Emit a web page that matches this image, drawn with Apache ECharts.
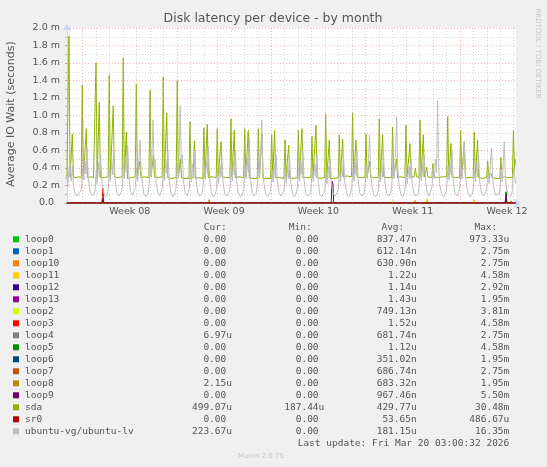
<!DOCTYPE html>
<html>
<head>
<meta charset="utf-8">
<script src="https://cdn.jsdelivr.net/npm/echarts/dist/echarts.min.js"></script>
<style>
html,body{margin:0;padding:0;background:#F0F0F0;}
#chart{width:547px;height:467px;}
</style>
</head>
<body>
<div id="chart"></div>
<script>
// ---- data (x = days since Mon 16 Feb 2026 00:00, y = milliseconds) ----
const names = ['loop0','loop1','loop10','loop11','loop12','loop13','loop2','loop3','loop4','loop5','loop6','loop7','loop8','loop9','sda','sr0','ubuntu-vg/ubuntu-lv'];
const colors = ['#00CC00','#0066B3','#FF8000','#FFCC00','#330099','#990099','#CCFF00','#FF0000','#808080','#008F00','#00487D','#B35A00','#B38F00','#6B006B','#8FB300','#B30000','#BEBEBE'];
const curVals = ['0.00','0.00','0.00','0.00','0.00','0.00','0.00','0.00','6.97u','0.00','0.00','0.00','2.15u','0.00','499.07u','0.00','223.67u'];
const minVals = ['0.00','0.00','0.00','0.00','0.00','0.00','0.00','0.00','0.00','0.00','0.00','0.00','0.00','0.00','187.44u','0.00','0.00'];
const avgVals = ['837.47n','612.14n','630.90n','1.22u','1.14u','1.43u','749.13n','1.52u','681.74n','1.12u','351.02n','686.74n','683.32n','967.46n','429.77u','53.65n','181.15u'];
const maxVals = ['973.33u','2.75m','2.75m','4.58m','2.92m','1.95m','3.81m','4.58m','2.75m','4.58m','1.95m','2.75m','1.95m','5.50m','30.48m','486.67u','16.35m'];

const timeStart = -1.166, timeEnd = 32.17;
const gridDays = [-1,1,2,3,4,5,6,8,9,10,11,12,13,15,16,17,18,19,20,22,23,24,25,26,27,29,30,31,32];
const gridWeeks = [0,7,14,21,28];
const weekMids = [3.5,10.5,17.5,24.5,31.5];
const weekLabels = ['Week 08','Week 09','Week 10','Week 11','Week 12'];

const loop0 = [[-1.17,0],[7.01,0],[7.07,0.02],[7.13,0],[16.38,0],[16.44,0.02],[16.5,0],[31.37,0],[31.43,0.12],[31.49,0],[32.125,0]];
const loop1 = [[-1.17,0],[7.01,0],[7.07,0.015],[7.13,0],[32.125,0]];
const loop10 = [[-1.17,0],[1.44,0],[1.5,0.10],[1.56,0],[3.01,0],[3.07,0.015],[3.13,0],[24.62,0],[24.68,0.03],[24.74,0],[25.51,0],[25.57,0.03],[25.63,0],[29.0,0],[29.06,0.03],[29.12,0],[32.125,0]];
const loop11 = [[-1.17,0],[3.01,0],[3.07,0.01],[3.13,0],[22.99,0],[23.05,0.03],[23.11,0],[25.51,0],[25.57,0.05],[25.63,0],[29.0,0],[29.06,0.025],[29.12,0],[32.125,0]];
const loop12 = [[-1.17,0],[0.98,0],[1.04,0.01],[1.1,0],[10.01,0],[10.07,0.01],[10.13,0],[11.04,0],[11.1,0.01],[11.16,0],[13.04,0],[13.1,0.01],[13.16,0],[14.01,0],[14.07,0.01],[14.13,0],[15.04,0],[15.1,0.01],[15.16,0],[18.01,0],[18.07,0.01],[18.13,0],[19.04,0],[19.1,0.01],[19.16,0],[20.04,0],[20.1,0.01],[20.16,0],[21.04,0],[21.1,0.01],[21.16,0],[24.19,0],[24.25,0.01],[24.31,0],[32.125,0]];
const loop13 = [[-1.17,0],[1.44,0],[1.5,0.04],[1.56,0],[30.04,0],[30.1,0.015],[30.16,0],[32.125,0]];
const loop2 = [[-1.17,0],[32.125,0]];
const loop3 = [[-1.17,0],[1.44,0],[1.5,0.17],[1.56,0],[3.01,0],[3.07,0.02],[3.13,0],[29.0,0],[29.06,0.02],[29.12,0],[32.125,0]];
const loop4 = [[-1.17,0],[1.44,0],[1.5,0.06],[1.56,0],[32.125,0]];
const loop5 = [[-1.17,0],[31.37,0],[31.43,0.13],[31.49,0],[32.125,0]];
const loop6 = [[-1.17,0],[7.01,0],[7.07,0.01],[7.13,0],[32.125,0]];
const loop7 = [[-1.17,0],[1.44,0],[1.5,0.08],[1.56,0],[24.62,0],[24.68,0.02],[24.74,0],[32.125,0]];
const loop8 = [[-1.17,0],[9.33,0],[9.39,0.04],[9.45,0],[25.51,0],[25.57,0.02],[25.63,0],[31.74,0],[31.8,0.025],[31.86,0],[32.125,0]];
const loop9 = [[-1.17,0],[1.44,0],[1.5,0.05],[1.56,0],[18.45,0],[18.5,0.25],[18.58,0.22],[18.64,0],[31.37,0],[31.43,0.10],[31.49,0],[32.125,0]];
const sr0 = [[-1.17,0],[1.44,0],[1.5,0.03],[1.56,0],[32.125,0]];

const sda = [
[-1.17,0.30],[-1.10,0.31],[-1.02,1.91],[-0.94,0.30],[-0.85,0.29],[-0.77,0.79],[-0.69,0.30],[-0.5,0.29],[-0.3,0.30],[-0.11,0.29],
[-0.03,1.35],[0.05,0.30],[0.19,0.29],[0.27,0.85],[0.35,0.29],[0.6,0.30],[0.8,0.29],[0.91,0.30],
[0.99,1.60],[1.07,0.29],[1.15,0.30],[1.23,1.15],[1.31,0.29],[1.6,0.29],[1.89,0.30],
[1.97,1.46],[2.05,0.29],[2.19,0.30],[2.27,1.11],[2.35,0.30],[2.6,0.29],[2.93,0.30],
[3.01,1.66],[3.09,0.29],[3.16,0.30],[3.24,0.81],[3.32,0.28],[3.6,0.29],[3.9,0.30],
[3.98,1.36],[4.06,0.30],[4.17,0.29],[4.25,0.48],[4.33,0.29],[4.6,0.30],[4.92,0.29],
[5.0,1.29],[5.08,0.30],[5.17,0.29],[5.25,0.55],[5.33,0.30],[5.6,0.29],[5.9,0.30],
[5.98,1.44],[6.06,0.29],[6.16,0.30],[6.24,1.03],[6.32,0.29],[6.6,0.28],[6.94,0.29],
[7.02,1.40],[7.10,0.29],[7.17,0.30],[7.25,0.50],[7.33,0.29],[7.6,0.28],[7.89,0.28],
[7.97,0.93],[8.05,0.28],[8.21,0.29],[8.29,0.71],[8.37,0.28],[8.6,0.29],[8.92,0.28],
[9.0,0.86],[9.08,0.29],[9.17,0.30],[9.25,0.90],[9.33,0.29],[9.6,0.30],[9.91,0.29],
[9.99,0.85],[10.07,0.30],[10.19,0.29],[10.27,0.70],[10.35,0.30],[10.6,0.29],[10.93,0.29],
[11.01,0.96],[11.09,0.30],[11.17,0.29],[11.25,0.83],[11.33,0.29],[11.6,0.30],[11.95,0.29],
[12.03,0.85],[12.11,0.30],[12.21,0.29],[12.29,0.83],[12.37,0.29],[12.6,0.28],[12.96,0.28],
[13.04,0.85],[13.12,0.29],[13.23,0.29],[13.31,0.79],[13.39,0.28],[13.6,0.28],[13.95,0.28],
[14.03,0.78],[14.11,0.29],[14.17,0.30],[14.25,0.83],[14.33,0.29],[14.6,0.29],[14.94,0.28],
[15.02,0.72],[15.10,0.29],[15.21,0.28],[15.29,0.66],[15.37,0.29],[15.6,0.28],[15.93,0.29],
[16.01,0.83],[16.09,0.30],[16.2,0.29],[16.28,0.85],[16.36,0.29],[16.6,0.29],[16.94,0.29],
[17.02,0.76],[17.10,0.29],[17.24,0.30],[17.32,0.89],[17.40,0.29],[17.6,0.28],[17.96,0.29],
[18.04,1.02],[18.12,0.29],[18.23,0.29],[18.31,0.72],[18.39,0.28],[18.6,0.28],[18.97,0.29],
[19.05,0.78],[19.13,0.30],[19.22,0.29],[19.30,0.73],[19.38,0.30],[19.6,0.31],[19.96,0.30],
[20.04,1.03],[20.12,0.30],[20.21,0.29],[20.29,0.72],[20.37,0.30],[20.6,0.29],[20.95,0.29],
[21.03,0.79],[21.11,0.29],[21.22,0.30],[21.30,0.48],[21.38,0.30],[21.6,0.29],[21.94,0.29],
[22.02,0.96],[22.10,0.30],[22.19,0.29],[22.27,0.78],[22.35,0.30],[22.6,0.29],[22.93,0.29],
[23.01,0.87],[23.09,0.29],[23.22,0.30],[23.30,0.50],[23.38,0.29],[23.6,0.30],[23.92,0.29],
[24.0,0.89],[24.08,0.30],[24.22,0.29],[24.30,0.68],[24.38,0.30],[24.6,0.30],[24.70,0.40],[24.78,0.30],[24.96,0.29],
[25.04,0.95],[25.12,0.30],[25.21,0.29],[25.29,0.78],[25.37,0.30],[25.46,0.30],[25.54,0.41],[25.62,0.30],[25.92,0.29],
[26.0,0.45],[26.08,0.30],[26.4,0.29],[26.7,0.30],[27.02,0.30],
[27.10,0.99],[27.18,0.30],[27.26,0.29],[27.34,0.68],[27.42,0.30],[27.7,0.29],[27.98,0.29],
[28.06,0.83],[28.14,0.30],[28.25,0.29],[28.33,0.70],[28.41,0.29],[28.7,0.29],[28.99,0.29],
[29.07,0.81],[29.15,0.29],[29.24,0.30],[29.32,0.72],[29.40,0.29],[29.7,0.28],[29.99,0.29],
[30.07,0.48],[30.15,0.29],[30.3,0.34],[30.4,0.29],[30.7,0.28],[30.97,0.28],
[31.05,0.52],[31.13,0.29],[31.3,0.30],[31.6,0.29],[31.90,0.29],
[31.98,0.83],[32.06,0.37],[32.125,0.50]
];

const ubuntu = [
[-1.17,0.30],[-1.10,0.18],[-1.02,0.40],[-0.94,0.45],[-0.85,0.25],[-0.77,0.42],[-0.69,0.20],[-0.55,0.10],[-0.40,0.08],[-0.25,0.12],
[-0.10,0.15],[0.00,0.40],[0.08,0.26],[0.17,0.48],[0.25,0.33],[0.32,0.63],[0.42,0.28],[0.55,0.12],[0.70,0.08],[0.85,0.11],
[0.92,0.14],[1.00,0.38],[1.08,0.22],[1.17,0.46],[1.25,0.30],[1.33,0.55],[1.42,0.25],[1.55,0.12],[1.70,0.07],[1.82,0.10],
[1.90,0.16],[1.98,0.42],[2.06,0.25],[2.15,0.50],[2.23,0.32],[2.31,0.60],[2.40,0.27],[2.55,0.11],[2.70,0.08],[2.85,0.12],
[2.93,0.15],[3.02,0.45],[3.10,0.28],[3.18,0.52],[3.26,0.35],[3.34,0.66],[3.43,0.30],[3.55,0.13],[3.70,0.09],[3.84,0.10],
[3.91,0.18],[3.99,0.40],[4.08,0.25],[4.17,0.48],[4.26,0.72],[4.34,0.35],[4.43,0.22],[4.55,0.10],[4.70,0.07],[4.85,0.11],
[4.93,0.20],[5.02,0.45],[5.10,0.30],[5.22,0.95],[5.30,0.40],[5.38,0.50],[5.46,0.22],[5.58,0.12],[5.72,0.08],[5.85,0.10],
[5.91,0.17],[6.00,0.42],[6.08,0.26],[6.17,0.50],[6.25,0.34],[6.33,0.60],[6.42,0.26],[6.55,0.11],[6.70,0.07],[6.86,0.12],
[6.95,0.20],[7.04,0.45],[7.12,0.30],[7.24,1.11],[7.32,0.45],[7.40,0.55],[7.48,0.25],[7.60,0.12],[7.75,0.08],[7.85,0.10],
[7.91,0.16],[7.99,0.40],[8.08,0.24],[8.17,0.45],[8.25,0.30],[8.33,0.60],[8.42,0.26],[8.55,0.11],[8.70,0.08],[8.85,0.11],
[8.93,0.18],[9.02,0.42],[9.10,0.27],[9.18,0.48],[9.26,0.33],[9.33,0.65],[9.42,0.28],[9.55,0.12],[9.70,0.07],[9.85,0.10],
[9.92,0.15],[10.01,0.38],[10.09,0.22],[10.18,0.45],[10.26,0.30],[10.33,0.55],[10.42,0.24],[10.55,0.10],[10.70,0.08],[10.86,0.12],
[10.94,0.17],[11.03,0.40],[11.11,0.25],[11.19,0.48],[11.27,0.32],[11.34,0.60],[11.43,0.26],[11.56,0.11],[11.72,0.07],[11.87,0.10],
[11.96,0.18],[12.05,0.45],[12.13,0.28],[12.21,0.52],[12.29,0.35],[12.36,0.75],[12.45,0.30],[12.58,0.12],[12.72,0.08],[12.88,0.11],
[12.97,0.20],[13.06,0.46],[13.14,0.30],[13.22,0.55],[13.29,0.95],[13.37,0.40],[13.46,0.22],[13.58,0.11],[13.72,0.07],[13.88,0.10],
[13.96,0.16],[14.05,0.38],[14.13,0.24],[14.21,0.46],[14.29,0.30],[14.36,0.55],[14.45,0.25],[14.58,0.11],[14.72,0.08],[14.87,0.12],
[14.95,0.15],[15.04,0.36],[15.12,0.22],[15.21,0.42],[15.29,0.28],[15.36,0.50],[15.45,0.24],[15.58,0.10],[15.72,0.07],[15.86,0.11],
[15.94,0.17],[16.03,0.40],[16.11,0.25],[16.20,0.48],[16.28,0.32],[16.35,0.60],[16.44,0.26],[16.57,0.11],[16.72,0.08],[16.87,0.10],
[16.95,0.16],[17.04,0.38],[17.12,0.24],[17.24,0.45],[17.32,0.30],[17.39,0.55],[17.48,0.24],[17.60,0.10],[17.75,0.07],[17.89,0.11],
[17.97,0.15],[18.06,0.36],[18.14,0.22],[18.23,0.42],[18.31,0.28],[18.38,0.50],[18.47,0.22],[18.60,0.10],[18.75,0.08],[18.90,0.12],
[18.98,0.16],[19.07,0.38],[19.15,0.24],[19.22,0.44],[19.30,0.30],[19.37,0.52],[19.46,0.24],[19.60,0.11],[19.75,0.07],[19.89,0.10],
[19.97,0.17],[20.06,0.40],[20.14,0.25],[20.21,0.48],[20.29,0.32],[20.36,0.60],[20.45,0.26],[20.58,0.11],[20.73,0.08],[20.88,0.11],
[20.96,0.18],[21.05,0.42],[21.13,0.28],[21.22,0.50],[21.30,0.78],[21.38,0.35],[21.47,0.20],[21.60,0.10],[21.75,0.07],[21.88,0.10],
[21.95,0.16],[22.04,0.38],[22.12,0.24],[22.19,0.45],[22.27,0.30],[22.34,0.55],[22.43,0.24],[22.56,0.11],[22.72,0.08],[22.87,0.12],
[22.94,0.18],[23.03,0.44],[23.11,0.28],[23.22,0.52],[23.31,0.98],[23.39,0.40],[23.48,0.22],[23.60,0.11],[23.75,0.07],[23.87,0.10],
[23.93,0.15],[24.02,0.36],[24.10,0.22],[24.22,0.42],[24.30,0.28],[24.37,0.50],[24.46,0.22],[24.60,0.10],[24.75,0.08],[24.90,0.11],
[24.97,0.17],[25.06,0.40],[25.14,0.25],[25.21,0.45],[25.29,0.30],[25.36,0.55],[25.45,0.25],[25.58,0.12],[25.72,0.08],[25.86,0.10],
[25.93,0.18],[26.02,0.40],[26.10,0.28],[26.19,0.50],[26.27,0.35],[26.35,1.17],[26.43,0.40],[26.52,0.20],[26.65,0.10],[26.80,0.07],[26.95,0.11],
[27.03,0.18],[27.12,0.42],[27.20,0.26],[27.27,0.48],[27.35,0.32],[27.42,0.60],[27.51,0.26],[27.64,0.11],[27.80,0.08],[27.93,0.10],
[27.99,0.17],[28.08,0.42],[28.16,0.27],[28.25,0.48],[28.33,0.70],[28.41,0.32],[28.50,0.20],[28.63,0.10],[28.78,0.07],[28.93,0.11],
[29.00,0.16],[29.09,0.38],[29.17,0.24],[29.24,0.45],[29.32,0.30],[29.39,0.55],[29.48,0.24],[29.62,0.11],[29.78,0.08],[29.93,0.12],
[30.00,0.17],[30.09,0.36],[30.17,0.22],[30.26,0.42],[30.36,0.63],[30.44,0.28],[30.53,0.16],[30.66,0.09],[30.80,0.07],[30.92,0.10],
[30.98,0.16],[31.07,0.38],[31.15,0.24],[31.22,0.45],[31.30,0.70],[31.38,0.30],[31.47,0.16],[31.60,0.09],[31.75,0.07],[31.88,0.12],
[31.95,0.30],[32.02,0.42],[32.08,0.30],[32.125,0.22]
];

const seriesData = [loop0,loop1,loop10,loop11,loop12,loop13,loop2,loop3,loop4,loop5,loop6,loop7,loop8,loop9,sda,sr0,ubuntu];

// ---- chart ----
const FONT = 'DejaVu Sans';
const MONO = 'DejaVu Sans Mono';
const TXT = '#555555';
const AXIS = '#CFD6F8';
const MINOR = 'rgba(170,170,170,0.45)';
const MAJOR = 'rgba(235,110,110,0.5)';

const chart = echarts.init(document.getElementById('chart'), null, {renderer:'canvas'});

const series = [];
series.push({
  type:'line', data:[], z:1, silent:true, symbol:'none',
  markLine:{silent:true, symbol:'none', label:{show:false}, animation:false,
    lineStyle:{color:MINOR, type:[1,2], width:1},
    data: gridDays.map(d => ({xAxis:d}))}
});
series.push({
  type:'line', data:[], z:1, silent:true, symbol:'none',
  markLine:{silent:true, symbol:'none', label:{show:false}, animation:false,
    lineStyle:{color:MAJOR, type:[1,2], width:1},
    data: gridWeeks.map(d => ({xAxis:d}))}
});
names.forEach((n,i) => {
  series.push({
    name:n, type:'line', data:seriesData[i], showSymbol:false, symbol:'none',
    lineStyle:{width:1, color:colors[i]}, itemStyle:{color:colors[i]},
    z:3, silent:true, animation:false
  });
});

// legend graphics
const graphics = [];
const rowY0 = 239.3, rowH = 12, charW = 5.72;
const colEdges = [232, 324.3, 416.7, 509.3];
const headEnds = [226.7, 311.7, 404.3, 497.3];
const heads = ['Cur:','Min:','Avg:','Max:'];
const legendFont = '9.5px "' + MONO + '"';
heads.forEach((h,j) => {
  graphics.push({type:'text', x:headEnds[j], y:rowY0 - rowH, silent:true,
    style:{text:h, font:legendFont, fill:TXT, textAlign:'right', textVerticalAlign:'middle'}});
});
const cols = [curVals, minVals, avgVals, maxVals];
names.forEach((n,i) => {
  const y = rowY0 + i*rowH;
  graphics.push({type:'rect', silent:true, shape:{x:13, y:y-3, width:6, height:6}, style:{fill:colors[i]}});
  graphics.push({type:'text', x:25, y:y, silent:true,
    style:{text:n, font:legendFont, fill:TXT, textAlign:'left', textVerticalAlign:'middle'}});
  cols.forEach((arr,j) => {
    const s = arr[i];
    const m = s.match(/^([0-9.]+)([a-zA-Z]?)$/);
    const num = m ? m[1] : s, unit = m ? m[2] : '';
    graphics.push({type:'text', x:colEdges[j]-charW, y:y, silent:true,
      style:{text:num, font:legendFont, fill:TXT, textAlign:'right', textVerticalAlign:'middle'}});
    if (unit) graphics.push({type:'text', x:colEdges[j]-charW, y:y, silent:true,
      style:{text:unit, font:legendFont, fill:TXT, textAlign:'left', textVerticalAlign:'middle'}});
  });
});
graphics.push({type:'text', x:509.3, y:rowY0 + names.length*rowH, silent:true,
  style:{text:'Last update: Fri Mar 20 03:00:32 2026', font:legendFont, fill:TXT, textAlign:'right', textVerticalAlign:'middle'}});
graphics.push({type:'text', x:261, y:456, silent:true,
  style:{text:'Munin 2.0.75', font:'7px "' + FONT + '"', fill:'#C8C8C8', textAlign:'center', textVerticalAlign:'middle'}});
graphics.push({type:'text', x:538, y:53.5, rotation:-Math.PI/2, silent:true,
  style:{text:'RRDTOOL / TOBI OETIKER', font:'7px "' + FONT + '"', fill:'#C8C8C8', textAlign:'center', textVerticalAlign:'middle'}});
graphics.push({type:'text', x:11, y:114, rotation:Math.PI/2, silent:true,
  style:{text:'Average IO Wait (seconds)', font:'11px "' + FONT + '"', fill:TXT, textAlign:'center', textVerticalAlign:'middle'}});
graphics.push({type:'text', x:273, y:19, silent:true,
  style:{text:'Disk latency per device - by month', font:'12.5px "' + FONT + '"', fill:TXT, textAlign:'center', textVerticalAlign:'middle'}});

const option = {
  backgroundColor:'#F0F0F0',
  animation:false,
  grid:{left:67, right:31, top:28, bottom:264, containLabel:false, show:true, backgroundColor:'#FFFFFF', borderWidth:0},
  xAxis:{
    type:'value', min:timeStart, max:timeEnd,
    axisLine:{show:true, onZero:false, lineStyle:{color:AXIS, width:1}, symbol:['none','arrow'], symbolSize:[7,7], symbolOffset:[0,5]},
    axisTick:{show:false},
    splitLine:{show:false},
    axisLabel:{customValues:weekMids, margin:4, color:TXT, fontFamily:FONT, fontSize:9.5,
      formatter:(v) => { const k = weekMids.indexOf(v); return k >= 0 ? weekLabels[k] : ''; }}
  },
  yAxis:{
    type:'value', min:0, max:2, interval:0.2,
    axisLine:{show:true, onZero:false, lineStyle:{color:AXIS, width:1}, symbol:['none','arrow'], symbolSize:[7,7], symbolOffset:[0,4]},
    axisTick:{show:true, length:2, lineStyle:{color:'#AAAAAA'}},
    splitLine:{show:true, lineStyle:{color:MAJOR, type:[1,2], width:1}},
    minorTick:{show:true, splitNumber:2, length:2, lineStyle:{color:'#BBBBBB'}},
    minorSplitLine:{show:true, lineStyle:{color:MINOR, type:[1,2], width:1}},
    axisLabel:{margin:7, color:TXT, fontFamily:FONT, fontSize:9.5,
      formatter:(v) => v === 0 ? '{z|0.0}' : v.toFixed(1) + ' m',
      rich:{z:{padding:[0,6,0,0], color:TXT, fontFamily:FONT, fontSize:9.5}}}
  },
  series: series,
  graphic: graphics
};
chart.setOption(option);
</script>
</body>
</html>
